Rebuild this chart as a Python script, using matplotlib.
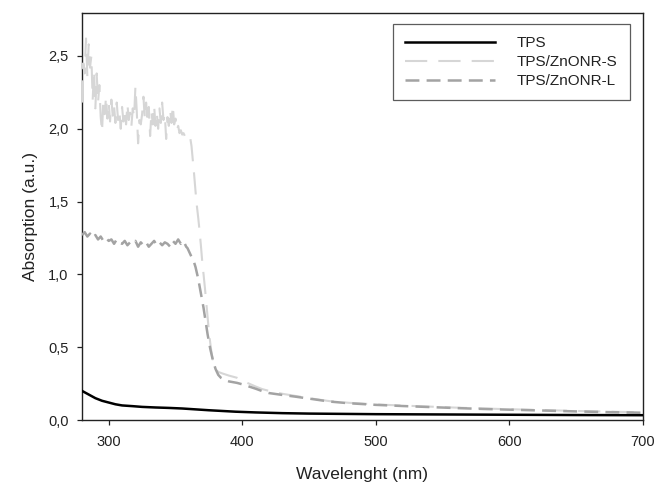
import numpy as np
import matplotlib
matplotlib.use("Agg")
import matplotlib.pyplot as plt
from matplotlib.ticker import FuncFormatter

plt.rcParams['font.family'] = ['Liberation Sans', 'DejaVu Sans']
plt.rcParams['lines.scale_dashes'] = False

# ---- data ----
tps_wl = [280, 283, 286, 290, 295, 300, 305, 310, 318, 325, 335, 345, 355, 365,
          375, 385, 395, 410, 430, 450, 500, 550, 600, 650, 700]
tps_abs = [0.20, 0.185, 0.17, 0.15, 0.132, 0.12, 0.108, 0.10, 0.095, 0.09, 0.086,
           0.083, 0.079, 0.073, 0.067, 0.062, 0.057, 0.052, 0.047, 0.044, 0.040,
           0.038, 0.036, 0.034, 0.033]

s_wl = list(range(280, 381)) + [382, 385, 390, 396, 400, 405, 410, 415, 420, 430,
                                440, 450, 465, 480, 500, 520, 540, 560, 580, 600,
                                625, 650, 675, 700]
s_abs = [2.18, 2.45, 2.38, 2.62, 2.36, 2.58, 2.42, 2.50, 2.20, 2.40,
         2.14, 2.38, 2.18, 2.30, 2.08, 1.98, 2.20, 2.10, 2.22, 2.07,
         2.18, 2.05, 2.20, 2.09, 2.16, 2.04, 2.18, 2.06, 2.12, 2.00,
         2.15, 2.05, 2.13, 2.03, 2.17, 2.06, 2.11, 2.02, 2.14, 2.08,
         2.29, 2.12, 1.90, 2.06, 2.03, 2.10, 2.22, 2.07, 2.18, 2.04,
         2.15, 1.95, 2.12, 2.03, 2.16, 2.02, 2.11, 2.00, 2.14, 2.04,
         2.18, 2.06, 2.10, 1.93, 2.08, 2.02, 2.13, 2.04, 2.16, 2.03,
         2.07, 1.99, 2.02, 1.97, 1.99, 1.96, 1.97, 1.95, 1.96, 1.95,
         1.96,
         1.94, 1.88, 1.78, 1.68, 1.57, 1.47, 1.39, 1.30, 1.20, 1.09,
         1.00, 0.91, 0.81, 0.71, 0.61, 0.53, 0.46, 0.41, 0.37, 0.35,
         0.33, 0.32, 0.305, 0.29, 0.27, 0.25, 0.23, 0.212, 0.20, 0.18,
         0.165, 0.15, 0.13, 0.118, 0.107, 0.099, 0.092, 0.085, 0.079, 0.074,
         0.068, 0.062, 0.057, 0.053]

l_wl = list(range(280, 359, 2)) + list(range(359, 381)) + [382, 384, 387, 390, 396,
                                                         400, 405, 410, 415, 420,
                                                         430, 440, 450, 465, 480,
                                                         500, 520, 540, 560, 580,
                                                         600, 625, 650, 675, 700]
l_abs = [1.27, 1.29, 1.26, 1.28, 1.25, 1.27, 1.24, 1.26, 1.23, 1.25,
         1.23, 1.24, 1.21, 1.24, 1.22, 1.21, 1.23, 1.20, 1.22, 1.21,
         1.23, 1.19, 1.22, 1.20, 1.22, 1.19, 1.21, 1.23, 1.20, 1.22,
         1.20, 1.22, 1.21, 1.19, 1.23, 1.21, 1.24, 1.21, 1.23, 1.19,
         1.18, 1.16, 1.14, 1.12, 1.10, 1.08, 1.05, 1.01, 0.97, 0.92,
         0.87, 0.82, 0.77, 0.71, 0.65, 0.59, 0.54, 0.49, 0.45, 0.41,
         0.38, 0.35,
         0.31, 0.29, 0.275, 0.265, 0.255, 0.245, 0.23, 0.215, 0.198, 0.185,
         0.172, 0.16, 0.147, 0.127, 0.115, 0.104, 0.096, 0.089, 0.082, 0.076,
         0.071, 0.065, 0.059, 0.054, 0.050]

labels = ["TPS", "TPS/ZnONR-S", "TPS/ZnONR-L"]
x_ticks = [300, 400, 500, 600, 700]
y_ticks = [0.0, 0.5, 1.0, 1.5, 2.0, 2.5]

# ---- figure ----
fig = plt.figure(figsize=(6.57, 4.83), dpi=100)
ax = fig.add_axes([82 / 657, 1 - 420 / 483, 561 / 657, 407 / 483])

ax.plot(tps_wl, tps_abs, color='black', lw=1.8, label=labels[0], zorder=4)
ax.plot(s_wl, s_abs, color='#d6d6d6', lw=1.5, linestyle=(0, (16, 8)),
        label=labels[1], zorder=3)
ax.plot(l_wl, l_abs, color='#a3a3a3', lw=1.8, linestyle=(0, (10, 5.2)),
        label=labels[2], zorder=3.5)

ax.set_xlim(280, 700)
ax.set_ylim(0, 2.795)
ax.set_xticks(x_ticks)
ax.set_yticks(y_ticks)
ax.yaxis.set_major_formatter(FuncFormatter(lambda v, p: f"{v:.1f}".replace('.', ',')))
ax.tick_params(direction='out', length=3.6, width=0.9, labelsize=10.5, pad=6,
               colors='#222222')
ax.tick_params(axis='x', pad=7.5)
for sp in ax.spines.values():
    sp.set_linewidth(1.0)
    sp.set_color('#222222')

ax.set_xlabel("Wavelenght (nm)", fontsize=12.5, labelpad=13, color='#222222')
ax.set_ylabel("Absorption (a.u.)", fontsize=12.5, labelpad=7, color='#222222')

leg = ax.legend(loc='upper left', bbox_to_anchor=((393 - 82) / 561, (420 - 24) / 407),
                fontsize=11, handlelength=5.9, handletextpad=1.4,
                labelspacing=0.32, borderpad=0.8, borderaxespad=0,
                fancybox=False, frameon=True, edgecolor='#333333')
leg.get_frame().set_linewidth(0.9)
for t in leg.get_texts():
    t.set_color('#222222')

fig.savefig("out.png", dpi=100)
